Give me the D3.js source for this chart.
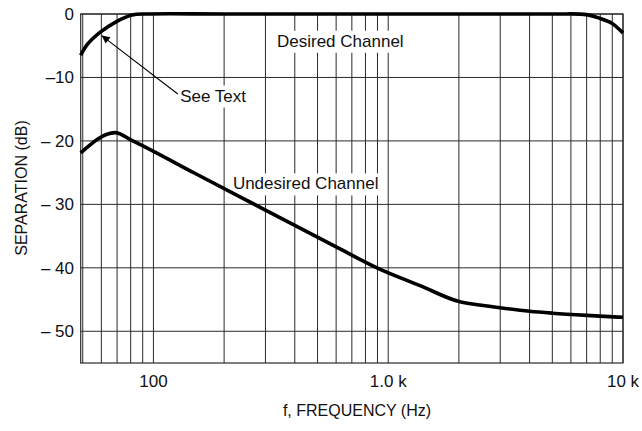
<!DOCTYPE html>
<html>
<head>
<meta charset="utf-8">
<script src="https://cdn.jsdelivr.net/npm/d3@7"></script>
<style>
  body { margin: 0; background: #fff; }
  text { font-family: "Liberation Sans", Arial, sans-serif; fill: #111; }
  .grid line { stroke: #2a2a2a; stroke-width: 1; }
  .frame { fill: none; stroke: #2a2a2a; stroke-width: 1.2; }
  .curve { fill: none; stroke: #000; stroke-width: 3.6; stroke-linejoin: round; }
</style>
</head>
<body>
<script>
(function(){

    //desired channel (Hz, dB)
    var desiredFreq = [49, 52.3, 59.2, 69.6, 81, 95, 200, 1000, 5000, 7000, 8000, 9000, 10000];
    var desiredDb   = [-6.5, -4.8, -2.9, -1.2, -0.15, 0, 0, 0, 0, -0.1, -0.7, -1.5, -3.0];

    //undesired channel (Hz, dB)
    var undesiredFreq = [49, 68.6, 80.8, 150, 300, 600, 895, 1366, 2000, 2500, 3000, 4000, 5000, 7000, 10000];
    var undesiredDb   = [-21.9, -18.7, -19.9, -25.1, -30.9, -36.7, -40.0, -42.8, -45.3, -45.9, -46.3, -46.85, -47.15, -47.5, -47.8];

    //axis ticks
    var xTicks = [100, 1000, 10000];
    var xTickLabels = ["100", "1.0 k", "10 k"];
    var yTicks = [0, -10, -20, -30, -40, -50];
    var yTickLabels = ["0", "\u201310", "\u2013 20", "\u2013 30", "\u2013 40", "\u2013 50"];
    var xGrid = [50, 60, 70, 80, 90, 100, 200, 300, 400, 500, 600, 700, 800, 900,
                 1000, 2000, 3000, 4000, 5000, 6000, 7000, 8000, 9000, 10000];

    //annotations (text, Hz, dB)
    var notes = [
        {text: "Desired Channel", f: 336, db: -5.16},
        {text: "Undesired Channel", f: 218, db: -27.65},
        {text: "See Text", f: 130, db: -13.8}
    ];
    var arrowFrom = [127, -12.6], arrowTo = [60.2, -3.4];

    var width = 642, height = 431;
    var left = 80.7, right = 623, top = 14, bottom = 363;

    var svg = d3.select("body").append("svg")
        .attr("width", width)
        .attr("height", height);

    var x = d3.scaleLog().domain([49, 10000]).range([left, right]);
    var y = d3.scaleLinear().domain([-55, 0]).range([bottom, top]);

    //gridlines
    var grid = svg.append("g").attr("class", "grid");
    grid.selectAll(".vx")
        .data(xGrid)
        .enter()
        .append("line")
        .attr("x1", function(d){ return x(d); })
        .attr("x2", function(d){ return x(d); })
        .attr("y1", top)
        .attr("y2", bottom);
    grid.selectAll(".hy")
        .data(yTicks)
        .enter()
        .append("line")
        .attr("x1", left)
        .attr("x2", right)
        .attr("y1", function(d){ return y(d); })
        .attr("y2", function(d){ return y(d); });

    //frame
    svg.append("rect")
        .attr("class", "frame")
        .attr("x", left)
        .attr("y", top)
        .attr("width", right - left)
        .attr("height", bottom - top);

    //annotation labels with white boxes
    notes.forEach(function(n){
        var g = svg.append("g");
        var rect = g.append("rect").attr("fill", "#fff");
        var t = g.append("text")
            .attr("x", x(n.f))
            .attr("y", y(n.db))
            .style("font-size", "17px")
            .text(n.text);
        var bb = t.node().getBBox();
        rect.attr("x", bb.x - 4)
            .attr("y", bb.y - 1)
            .attr("width", bb.width + 8)
            .attr("height", bb.height + 3);
    });

    //arrow
    svg.append("defs").append("marker")
        .attr("id", "arrowhead")
        .attr("viewBox", "0 0 10 10")
        .attr("refX", 10)
        .attr("refY", 5)
        .attr("markerUnits", "userSpaceOnUse")
        .attr("markerWidth", 14)
        .attr("markerHeight", 8)
        .attr("orient", "auto")
        .append("path")
        .attr("d", "M0,0 L10,5 L0,10 Z")
        .attr("fill", "#000");
    svg.append("line")
        .attr("x1", x(arrowFrom[0]))
        .attr("y1", y(arrowFrom[1]))
        .attr("x2", x(arrowTo[0]))
        .attr("y2", y(arrowTo[1]))
        .attr("stroke", "#000")
        .attr("stroke-width", 1.1)
        .attr("marker-end", "url(#arrowhead)");

    //curves
    var line = d3.line()
        .x(function(d){ return x(d[0]); })
        .y(function(d){ return y(d[1]); })
        .curve(d3.curveMonotoneX);

    var smoothLine = d3.line()
        .x(function(d){ return x(d[0]); })
        .y(function(d){ return y(d[1]); })
        .curve(d3.curveCatmullRom.alpha(0.5));

    svg.append("path")
        .datum(d3.zip(desiredFreq, desiredDb))
        .attr("class", "curve")
        .attr("d", smoothLine);
    svg.append("path")
        .datum(d3.zip(undesiredFreq, undesiredDb))
        .attr("class", "curve")
        .attr("d", line);

    //x tick labels
    svg.selectAll(".xlab")
        .data(xTicks)
        .enter()
        .append("text")
        .attr("x", function(d){ return x(d); })
        .attr("y", 387)
        .attr("text-anchor", "middle")
        .style("font-size", "17px")
        .text(function(d, i){ return xTickLabels[i]; });

    //y tick labels
    svg.selectAll(".ylab")
        .data(yTicks)
        .enter()
        .append("text")
        .attr("x", 74)
        .attr("y", function(d){ return y(d); })
        .attr("dy", "0.35em")
        .attr("text-anchor", "end")
        .style("font-size", "17px")
        .text(function(d, i){ return yTickLabels[i]; });

    //axis titles
    svg.append("text")
        .attr("x", 357)
        .attr("y", 416)
        .attr("text-anchor", "middle")
        .style("font-size", "16px")
        .text("f, FREQUENCY (Hz)");
    svg.append("text")
        .attr("transform", "translate(27,188) rotate(-90)")
        .attr("text-anchor", "middle")
        .style("font-size", "16px")
        .text("SEPARATION (dB)");

})();
</script>
</body>
</html>
